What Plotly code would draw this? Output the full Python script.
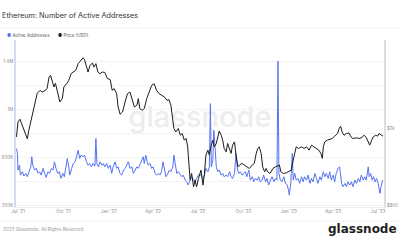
import pandas as pd
import plotly.graph_objects as go

# ---------------- data ----------------
START = "2021-07-01"

# Active addresses: day offsets from START, values in thousands
aa_days = [
    -3, -1, 0, 3, 5, 9, 12, 16, 19, 22,
    26, 28, 30, 34, 37, 41, 44, 47, 51, 54,
    57, 61, 64, 68, 71, 74, 77, 81, 84, 87,
    91, 94, 97, 100, 103, 105, 109, 112, 116, 119,
    122, 125, 128, 132, 135, 139, 142, 145, 149, 152,
    156, 158, 160, 163, 166, 170, 173, 176, 180, 183,
    187, 190, 193, 197, 200, 203, 207, 210, 214, 217,
    220, 224, 227, 231, 234, 237, 241, 244, 247, 251,
    254, 256, 259, 262, 264, 268, 271, 274, 278, 281,
    285, 288, 291, 294, 297, 300, 304, 307, 310, 314,
    316, 319, 322, 325, 329, 332, 335, 339, 342, 345,
    349, 352, 356, 359, 362, 366, 369, 375, 378, 381,
    385, 388, 390, 392, 395, 397, 400, 402, 405, 408,
    412, 415, 418, 422, 425, 429, 432, 435, 439, 442,
    445, 448, 451, 454, 458, 461, 464, 468, 471, 475,
    478, 481, 485, 488, 491, 495, 498, 502, 505, 508,
    512, 515, 519, 522, 525, 527, 529, 532, 535, 539,
    542, 546, 549, 550, 553, 556, 558, 561, 564, 568,
    571, 575, 578, 581, 585, 588, 592, 595, 598, 602,
    605, 608, 612, 615, 619, 622, 625, 629, 632, 635,
    639, 642, 645, 649, 652, 656, 659, 663, 666, 669,
    673, 676, 679, 683, 686, 690, 693, 696, 700, 703,
    706, 710, 712, 715, 718, 721, 724, 727, 730, 734,
    736, 739,
]
aa_thousands = [
    672, 631, 492, 533, 450, 478, 442, 464, 436, 478,
    519, 603, 533, 492, 506, 464, 478, 450, 506, 464,
    431, 478, 464, 506, 492, 561, 506, 464, 478, 422,
    464, 436, 506, 589, 519, 450, 506, 547, 561, 617,
    658, 589, 617, 603, 617, 561, 533, 547, 519, 547,
    525, 756, 547, 519, 561, 533, 547, 519, 547, 506,
    533, 464, 519, 561, 506, 519, 464, 450, 492, 506,
    533, 561, 506, 519, 464, 492, 519, 506, 533, 575,
    603, 547, 617, 561, 533, 547, 506, 519, 464, 450,
    464, 450, 478, 561, 478, 436, 464, 492, 478, 519,
    617, 519, 464, 478, 450, 436, 450, 408, 394, 367,
    408, 436, 408, 394, 422, 450, 458, 422, 450, 506,
    478, 519, 1047, 519, 575, 825, 658, 519, 478, 492,
    450, 464, 436, 450, 436, 478, 436, 422, 464, 631,
    492, 464, 478, 450, 464, 478, 436, 492, 408, 436,
    394, 422, 408, 436, 394, 408, 450, 394, 422, 367,
    408, 436, 394, 422, 408, 1402, 464, 408, 394, 436,
    381, 367, 311, 283, 381, 631, 408, 464, 408, 422,
    381, 436, 394, 436, 408, 450, 381, 422, 394, 464,
    422, 381, 436, 408, 478, 436, 464, 422, 478, 408,
    450, 394, 464, 506, 519, 381, 353, 381, 353, 394,
    367, 394, 353, 408, 381, 422, 394, 450, 408, 436,
    408, 519, 436, 464, 408, 436, 394, 422, 381, 297,
    353, 408,
]

# ETH price (USD): day offsets from START
price_days = [
    -3, 0, 4, 7, 11, 16, 19, 22, 27, 32,
    36, 39, 45, 49, 56, 59, 63, 66, 70, 73,
    76, 81, 85, 90, 93, 99, 103, 108, 112, 117,
    122, 127, 132, 135, 139, 142, 146, 151, 154, 158,
    162, 166, 171, 176, 181, 187, 191, 195, 200, 203,
    207, 212, 217, 222, 227, 231, 236, 241, 244, 247,
    252, 256, 261, 266, 271, 276, 281, 286, 291, 297,
    302, 306, 310, 312, 314, 316, 320, 325, 329, 333,
    337, 341, 344, 347, 349, 352, 356, 359, 362, 366,
    369, 371, 375, 378, 381, 385, 388, 391, 395, 398,
    402, 405, 408, 412, 415, 418, 422, 425, 429, 432,
    435, 439, 442, 446, 449, 454, 459, 464, 469, 475,
    479, 483, 486, 489, 493, 496, 500, 503, 506, 511,
    517, 522, 527, 530, 533, 538, 544, 549, 554, 558,
    561, 564, 569, 575, 580, 585, 590, 595, 600, 605,
    610, 614, 617, 619, 622, 627, 632, 637, 642, 648,
    651, 654, 657, 661, 666, 671, 675, 679, 686, 693,
    698, 702, 706, 710, 713, 717, 720, 725, 729, 732,
    736, 740,
]
price_usd = [
    1807, 2162, 2232, 2128, 2029, 1844, 1765, 1958, 2206, 2485,
    2799, 3044, 3155, 3091, 3155, 3231, 3698, 3773, 3482, 3282,
    3430, 3044, 2743, 2867, 3282, 3430, 3554, 3864, 3924, 4005,
    4339, 4513, 4660, 4550, 4165, 3924, 4250, 4371, 4165, 4339,
    3924, 3851, 3924, 3911, 3640, 3583, 3155, 3220, 3033, 2586,
    2370, 2435, 2743, 3033, 3091, 2857, 2586, 2638, 2857, 2536,
    2485, 2536, 2857, 3091, 3349, 3417, 3155, 3033, 2972, 2912,
    2799, 2822, 2638, 2435, 2206, 1998, 1918, 1998, 1844, 1882,
    1738, 1773, 1604, 1263, 1078, 1167, 995, 1078, 995, 1100,
    1167, 1214, 1015, 1167, 1453, 1542, 1453, 1604, 1738, 1604,
    1671, 1844, 1941, 1844, 1738, 1574, 1511, 1671, 1542, 1483,
    1637, 1703, 1453, 1263, 1290, 1316, 1290, 1263, 1239, 1290,
    1316, 1483, 1574, 1604, 1483, 1263, 1190, 1239, 1190, 1167,
    1239, 1263, 1274, 1290, 1190, 1167, 1176, 1190, 1214, 1369,
    1511, 1604, 1574, 1604, 1574, 1604, 1542, 1637, 1604, 1574,
    1542, 1483, 1397, 1604, 1703, 1738, 1752, 1773, 1823, 1882,
    1998, 2054, 1918, 1844, 1882, 1895, 1807, 1773, 1786, 1773,
    1807, 1844, 1794, 1703, 1637, 1738, 1807, 1844, 1823, 1882,
    1844, 1823,
]

x_tick_dates = ["2021-07-01", "2021-10-01", "2022-01-01", "2022-04-01", "2022-07-01",
                "2022-10-01", "2023-01-01", "2023-04-01", "2023-07-01"]
x_tick_text = ["Jul '21", "Oct '21", "Jan '22", "Apr '22", "Jul '22",
               "Oct '22", "Jan '23", "Apr '23", "Jul '23"]
aa_tick_vals = [200000, 400000, 600000, 800000, 1000000, 1200000, 1400000]
aa_tick_text = ["200K", "", "600K", "", "1M", "", "1.4M"]
price_tick_vals = [800, 2000]
price_tick_text = ["$800", "$2k"]

# ---------------- styling / layout ----------------
BLUE = "#5573f2"
W, H = 400, 240
ML, MR, MT, MB = 16, 16, 40, 33
PW, PH = W - ML - MR, H - MT - MB


def px_x(px):
    return (px - ML) / PW


def px_y(py):
    return (H - MB - py) / PH


start = pd.Timestamp(START)
aa_dates = start + pd.to_timedelta(aa_days, unit="D")
price_dates = start + pd.to_timedelta(price_days, unit="D")
aa_values = [v * 1000 for v in aa_thousands]

x_range = [pd.Timestamp("2021-06-27"), pd.Timestamp("2023-07-13")]
aa_range = [183300, 1579000]
price_range = [2.8927, 3.7606]

fig = go.Figure()
# watermark (behind the lines)
fig.add_trace(go.Scatter(
    x=[x_range[0] + (x_range[1] - x_range[0]) / 2],
    y=[aa_range[0] + (aa_range[1] - aa_range[0]) * 0.52],
    mode="text", text=["glassnode"],
    textfont=dict(family="Inter", size=29, color="#ededed", weight=500),
    hoverinfo="skip", showlegend=False))
fig.add_trace(go.Scatter(
    x=aa_dates, y=aa_values, mode="lines", name="Active Addresses",
    line=dict(color=BLUE, width=1), yaxis="y", hoverinfo="skip"))
fig.add_trace(go.Scatter(
    x=price_dates, y=price_usd, mode="lines", name="Price (USD)",
    line=dict(color="#1c1c1c", width=1), yaxis="y2", hoverinfo="skip"))

axis_font = dict(family="Inter", size=4.5, color="#8a8a8a")
fig.update_layout(
    width=W, height=H,
    margin=dict(l=ML, r=MR, t=MT, b=MB, pad=0, autoexpand=False),
    paper_bgcolor="white", plot_bgcolor="white",
    showlegend=False,
    font=dict(family="Inter", size=4.5, color="#8a8a8a"),
    xaxis=dict(type="date", range=x_range, tickvals=x_tick_dates, ticktext=x_tick_text,
               showgrid=False, zeroline=False, showline=True, linecolor="#ececec",
               linewidth=1, ticks="", tickfont=axis_font, automargin=False),
    yaxis=dict(range=aa_range, tickvals=aa_tick_vals, ticktext=aa_tick_text,
               showgrid=True, gridcolor="#f3f3f3", gridwidth=1, zeroline=False,
               showline=True, linecolor="#d3dbfb", linewidth=1.5, ticks="",
               tickfont=axis_font, automargin=False),
    yaxis2=dict(type="log", range=price_range, overlaying="y", side="right",
                tickvals=price_tick_vals, ticktext=price_tick_text,
                showgrid=False, zeroline=False, showline=True, linecolor="#dedede",
                linewidth=1.5, ticks="", tickfont=axis_font, automargin=False),
)

fig.add_annotation(text="Ethereum: Number of Active Addresses", xref="paper", yref="paper",
                   x=px_x(0), y=px_y(15), xanchor="left", yanchor="middle", showarrow=False,
                   font=dict(family="Inter", size=7.3, color="#333333"))
fig.add_annotation(text="<span style='color:" + BLUE + "'>●</span> Active Addresses",
                   xref="paper", yref="paper",
                   x=px_x(5), y=px_y(35), xanchor="left", yanchor="middle", showarrow=False,
                   font=dict(family="Inter", size=4.5, color="#555555"))
fig.add_annotation(text="<span style='color:#1c1c1c'>●</span> Price (USD)",
                   xref="paper", yref="paper",
                   x=px_x(56), y=px_y(35), xanchor="left", yanchor="middle", showarrow=False,
                   font=dict(family="Inter", size=4.5, color="#555555"))
fig.add_annotation(text="2023 Glassnode. All Rights Reserved.", xref="paper", yref="paper",
                   x=px_x(1), y=px_y(229), xanchor="left", yanchor="middle", showarrow=False,
                   font=dict(family="Inter", size=4.6, color="#9a9a9a"))
fig.add_annotation(text="glassnode", xref="paper", yref="paper",
                   x=px_x(326), y=px_y(229), xanchor="left", yanchor="middle", showarrow=False,
                   font=dict(family="DejaVu Sans", size=12, color="#1e1e1e", weight="bold"))

fig.add_shape(type="line", xref="paper", yref="paper", x0=px_x(0), x1=px_x(W),
              y0=px_y(28), y1=px_y(28), line=dict(color="#f0f0f0", width=1))
fig.add_shape(type="line", xref="paper", yref="paper", x0=px_x(0), x1=px_x(W),
              y0=px_y(221), y1=px_y(221), line=dict(color="#f0f0f0", width=1))

fig.write_html("out.html")
